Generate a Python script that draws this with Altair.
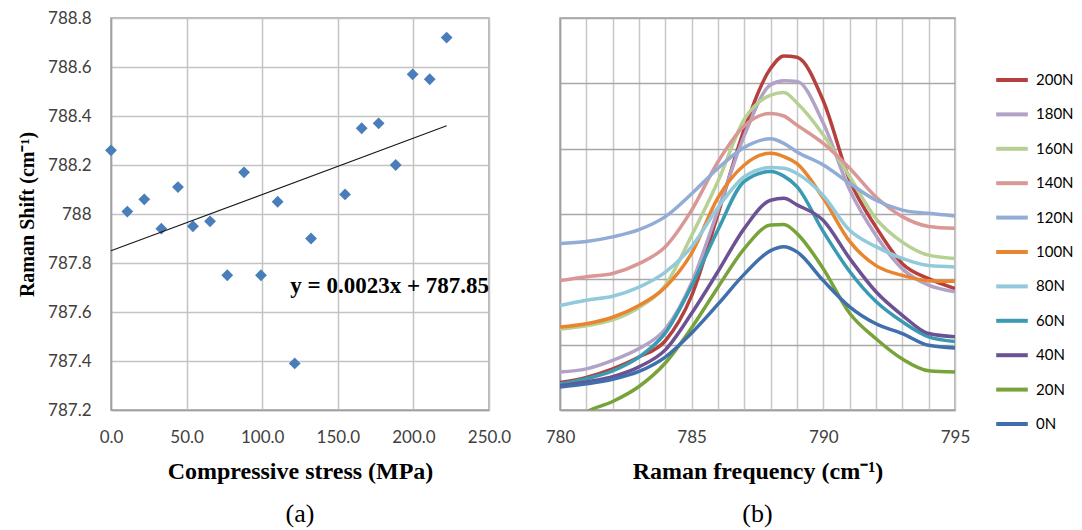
import altair as alt
import pandas as pd

# ---------- panel (a) data ----------
stress = [0.0, 10.8, 22.0, 33.3, 44.3, 54.2, 65.5, 76.9, 88.0, 99.2,
          110.2, 121.5, 132.3, 154.8, 165.8, 177.0, 188.3, 199.5, 210.8, 222.0]
shift = [788.26, 788.01, 788.06, 787.94, 788.11, 787.95, 787.97, 787.75, 788.17, 787.75,
         788.05, 787.39, 787.90, 788.08, 788.35, 788.37, 788.20, 788.57, 788.55, 788.72]
trend_x = [0.0, 222.0]
trend_y = [787.85, 788.36]
equation = "y = 0.0023x + 787.85"
x_ticks_a = [0, 50, 100, 150, 200, 250]
y_ticks_a = [787.2, 787.4, 787.6, 787.8, 788.0, 788.2, 788.4, 788.6, 788.8]

# ---------- panel (b) data ----------
freq = [780, 781, 782, 783, 784, 785, 786, 787, 788, 788.5, 789, 790, 791, 792, 793, 794, 795]
s200 = [0.42, 0.50, 0.63, 0.81, 1.06, 1.75, 3.00, 4.30, 5.23, 5.42, 5.40, 4.73, 3.52, 2.80, 2.24, 2.01, 1.86]
s180 = [0.58, 0.63, 0.76, 0.94, 1.24, 1.95, 3.06, 4.20, 4.98, 5.04, 5.03, 4.39, 3.37, 2.67, 2.16, 1.91, 1.81]
s160 = [1.24, 1.29, 1.38, 1.57, 1.91, 2.67, 3.50, 4.45, 4.82, 4.86, 4.70, 4.21, 3.57, 2.93, 2.57, 2.37, 2.32]
s140 = [1.98, 2.04, 2.09, 2.24, 2.50, 3.06, 3.80, 4.35, 4.54, 4.50, 4.36, 4.08, 3.70, 3.26, 2.96, 2.81, 2.78]
s120 = [2.55, 2.58, 2.65, 2.76, 2.96, 3.31, 3.70, 4.02, 4.15, 4.08, 3.95, 3.75, 3.47, 3.21, 3.06, 3.01, 2.97]
s100 = [1.27, 1.32, 1.42, 1.60, 1.88, 2.40, 3.25, 3.75, 3.93, 3.88, 3.77, 3.24, 2.58, 2.21, 2.06, 1.98, 1.97]
s80 = [1.60, 1.68, 1.74, 1.88, 2.11, 2.50, 3.10, 3.57, 3.71, 3.70, 3.62, 3.28, 2.75, 2.50, 2.32, 2.21, 2.19]
s60 = [0.40, 0.48, 0.60, 0.81, 1.18, 1.90, 2.76, 3.50, 3.65, 3.58, 3.42, 2.73, 2.12, 1.66, 1.35, 1.12, 1.05]
s40 = [0.37, 0.43, 0.51, 0.66, 0.92, 1.48, 2.12, 2.78, 3.21, 3.24, 3.14, 2.90, 2.32, 1.81, 1.45, 1.17, 1.12]
s20 = [-0.35, -0.03, 0.13, 0.36, 0.72, 1.26, 1.88, 2.47, 2.83, 2.84, 2.70, 2.16, 1.48, 1.09, 0.78, 0.60, 0.58]
s0 = [0.35, 0.40, 0.47, 0.59, 0.81, 1.18, 1.62, 2.08, 2.44, 2.50, 2.42, 1.98, 1.58, 1.32, 1.17, 0.99, 0.95]

series_names = ["200N", "180N", "160N", "140N", "120N", "100N", "80N", "60N", "40N", "20N", "0N"]
series_values = [s200, s180, s160, s140, s120, s100, s80, s60, s40, s20, s0]
series_colors = ["#B5403D", "#B3A2C7", "#B7D093", "#D99795", "#93ACD6", "#E9842F",
                 "#93CADB", "#3A9AB2", "#6C5193", "#78A33B", "#3F70AD"]
x_ticks_b = list(range(780, 796))
y_grid_b = [0, 1, 2, 3, 4, 5, 6]

SERIF = "Liberation Serif"
SANS = "Lato"
LABEL_COLOR = "#404040"

# ---------- panel (a) ----------
df_a = pd.DataFrame({"stress": stress, "shift": shift})
df_trend = pd.DataFrame({"stress": trend_x, "shift": trend_y})
df_eq = pd.DataFrame({"stress": [250.0], "shift": [787.705], "label": [equation]})

xa = alt.X("stress:Q",
           scale=alt.Scale(domain=[0, 250], nice=False),
           axis=alt.Axis(values=x_ticks_a, format=".1f", title="Compressive stress (MPa)",
                         grid=True, gridColor="#C3C3C3", gridWidth=1.5, ticks=False,
                         labelPadding=19, titlePadding=14, labelFlush=False,
                         titleFontSize=24))
ya = alt.Y("shift:Q",
           scale=alt.Scale(domain=[787.2, 788.8], nice=False, zero=False),
           axis=alt.Axis(values=y_ticks_a, format=".1~f", title="Raman Shift (cm⁻¹)",
                         grid=True, gridColor="#C3C3C3", gridWidth=1.5, ticks=False,
                         labelPadding=20, titlePadding=10, titleFontSize=20))

pts = alt.Chart(df_a).mark_point(shape="diamond", filled=True, size=140,
                                 color="#4A7EBB", opacity=1).encode(x=xa, y=ya)
trend = alt.Chart(df_trend).mark_line(color="#1a1a1a", strokeWidth=1.2).encode(
    x="stress:Q", y="shift:Q")
eq = alt.Chart(df_eq).mark_text(align="right", baseline="middle", font=SERIF,
                                fontWeight="bold", fontSize=23, color="#000000").encode(
    x="stress:Q", y="shift:Q", text="label:N")

panel_a = alt.layer(pts, trend, eq).properties(
    width=378, height=392,
    title=alt.TitleParams("(a)", orient="bottom", font=SERIF, fontSize=26,
                          fontWeight="normal", color="#000000", offset=18))

# ---------- panel (b) ----------
rows = []
for name, vals in zip(series_names, series_values):
    for f, v in zip(freq, vals):
        rows.append({"freq": f, "intensity": v, "load": name})
df_b = pd.DataFrame(rows)

xb = alt.X("freq:Q",
           scale=alt.Scale(domain=[780, 795], nice=False),
           axis=alt.Axis(values=x_ticks_b, labelExpr="datum.value % 5 == 0 ? datum.label : ''",
                         title="Raman frequency (cm⁻¹)", grid=True, gridColor="#C8C8C8",
                         gridWidth=1.5, ticks=False, labelPadding=19, titlePadding=14,
                         labelFlush=False, titleFontSize=24))
yb = alt.Y("intensity:Q",
           scale=alt.Scale(domain=[0, 6], nice=False),
           axis=alt.Axis(values=y_grid_b, labels=False, ticks=False, title=None,
                         grid=True, gridColor="#A8A8A8", gridWidth=1.5))

lines = alt.Chart(df_b).mark_line(strokeWidth=3.5, interpolate="monotone", clip=True).encode(
    x=xb, y=yb,
    color=alt.Color("load:N",
                    scale=alt.Scale(domain=series_names, range=series_colors),
                    sort=series_names,
                    legend=alt.Legend(title=None, orient="none", legendX=883, legendY=44,
                                      symbolType="stroke", symbolSize=1000,
                                      symbolStrokeWidth=4, labelFont=SANS, labelFontSize=15,
                                      labelColor="#000000", rowPadding=8.4, labelOffset=6)),
    detail="load:N",
)

panel_b = lines.properties(
    width=395, height=392,
    title=alt.TitleParams("(b)", orient="bottom", font=SERIF, fontSize=26,
                          fontWeight="normal", color="#000000", offset=18))

chart = alt.hconcat(panel_a, panel_b, spacing=32).configure_view(
    stroke="#A0A0A0", strokeWidth=1.5
).configure_axis(
    domainColor="#A0A0A0", domainWidth=1.5,
    labelFont=SANS, labelFontSize=17, labelColor=LABEL_COLOR,
    titleFont=SERIF, titleFontSize=22, titleFontWeight="bold", titleColor="#000000"
).properties(background="white", padding={"left": 8, "top": 0, "right": 0, "bottom": 0})

chart.save("out.html", embed_options={"renderer": "svg", "actions": False})
